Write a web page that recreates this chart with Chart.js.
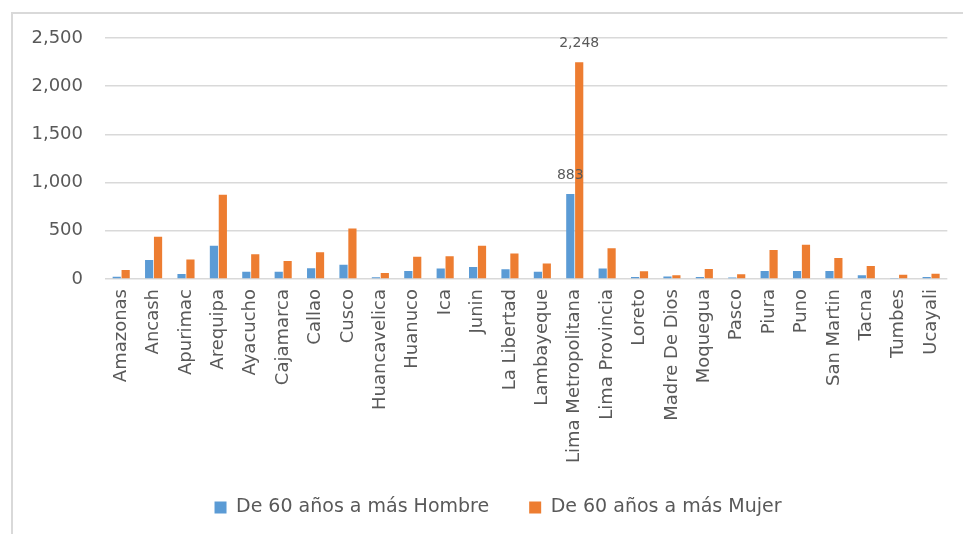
<!DOCTYPE html>
<html>
<head>
<meta charset="utf-8">
<script src="https://cdn.jsdelivr.net/npm/chart.js@4.4.1/dist/chart.umd.min.js"></script>
<style>
  html, body { margin: 0; padding: 0; background: #ffffff; }
  #wrap { position: relative; width: 963px; height: 534px; }
  #frame { position: absolute; left: 11px; top: 12px; right: 0; bottom: 0;
           border-left: 2px solid #d9d9d9; border-top: 2px solid #d9d9d9; pointer-events: none; }
  canvas { position: absolute; left: 0; top: 0; }
</style>
</head>
<body>
<div id="wrap">
  <canvas id="c" width="963" height="534"></canvas>
  <div id="frame"></div>
</div>
<script>
const categories = ["Amazonas","Ancash","Apurimac","Arequipa","Ayacucho","Cajamarca","Callao","Cusco","Huancavelica","Huanuco","Ica","Junin","La Libertad","Lambayeque","Lima Metropolitana","Lima Provincia","Loreto","Madre De Dios","Moquegua","Pasco","Piura","Puno","San Martin","Tacna","Tumbes","Ucayali"];
const hombre = [24,198,52,344,76,74,111,149,18,83,108,125,101,76,883,108,22,25,22,15,83,83,83,38,10,22];
const mujer  = [94,437,201,875,257,187,278,524,62,232,235,344,264,160,2248,320,80,38,104,49,302,354,219,135,45,55];
const seriesNames = ["De 60 años a más Hombre","De 60 años a más Mujer"];
const yTicks = [0,500,1000,1500,2000,2500];
const labeledCategories = ["Lima Metropolitana"];

const FONT = "'DejaVu Sans', sans-serif";
const GRAY = "#595959";

const valueLabels = {
  id: 'valueLabels',
  afterDatasetsDraw(chart) {
    const ctx = chart.ctx;
    ctx.save();
    ctx.font = "14px " + FONT;
    ctx.fillStyle = GRAY;
    ctx.textAlign = "center";
    ctx.textBaseline = "middle";
    chart.data.datasets.forEach((ds, di) => {
      const meta = chart.getDatasetMeta(di);
      chart.data.labels.forEach((lab, i) => {
        if (!labeledCategories.includes(lab)) return;
        const el = meta.data[i];
        ctx.fillText(ds.data[i].toLocaleString('en-US'), el.x, el.y - 19);
      });
    });
    ctx.restore();
  }
};

// shift the legend so that it sits like the original
const legendShift = {
  id: 'legendShift',
  afterLayout(chart) {
    const lg = chart.legend;
    if (lg) { lg.left += 24; lg.right += 24; lg.top -= 6; lg.bottom -= 6; }
  }
};

new Chart(document.getElementById('c'), {
  type: 'bar',
  data: {
    labels: categories,
    datasets: [
      { label: seriesNames[0], data: hombre, backgroundColor: "#5B9BD5" },
      { label: seriesNames[1], data: mujer, backgroundColor: "#ED7D31" }
    ]
  },
  options: {
    responsive: false,
    animation: false,
    devicePixelRatio: 1,
    layout: { padding: { left: 0, right: 15, top: 38, bottom: 1 } },
    datasets: { bar: { categoryPercentage: 0.55, barPercentage: 0.92 } },
    scales: {
      y: {
        min: 0, max: 2500,
        afterBuildTicks(scale) { scale.ticks = yTicks.map(v => ({ value: v })); },
        afterFit(scale) { scale.width = 105; },
        border: { display: false },
        grid: { color: "#d9d9d9", lineWidth: 1.5, drawTicks: false },
        ticks: { color: GRAY, font: { family: FONT, size: 18 }, padding: 22,
                 callback: v => v.toLocaleString('en-US') }
      },
      x: {
        afterFit(scale) { scale.height = 185; },
        border: { display: false },
        grid: { display: false, drawTicks: false },
        ticks: { color: GRAY, font: { family: FONT, size: 18 }, padding: 10,
                 autoSkip: false, minRotation: 90, maxRotation: 90 }
      }
    },
    plugins: {
      legend: {
        position: 'bottom',
        labels: { color: GRAY, font: { family: FONT, size: 19 }, boxWidth: 12, boxHeight: 12, padding: 40 }
      },
      tooltip: { enabled: false }
    }
  },
  plugins: [valueLabels, legendShift]
});
</script>
</body>
</html>
